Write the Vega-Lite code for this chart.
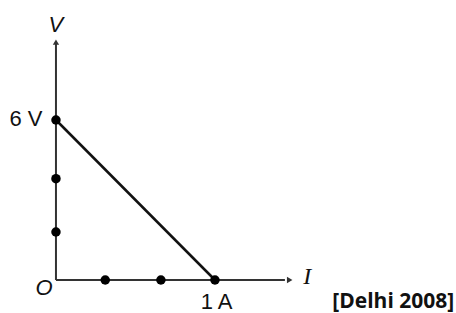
{
  "$schema": "https://vega.github.io/schema/vega-lite/v6.json",
  "width": 456,
  "height": 313,
  "padding": 0,
  "autosize": "none",
  "background": "white",
  "config": {"view": {"stroke": null}},
  "datasets": {
    "axes": [
      {"axis": "I", "i0": 0, "v0": 0, "i1": 1.44, "v1": 0},
      {"axis": "V", "i0": 0, "v0": 0, "i1": 0, "v1": 8.85}
    ],
    "arrows": [
      {"axis": "I", "i": 1.47, "v": 0, "shape": "triangle-right"},
      {"axis": "V", "i": 0, "v": 8.92, "shape": "triangle-up"}
    ],
    "graph": [
      {"i0": 0, "v0": 6, "i1": 1, "v1": 0}
    ],
    "dots": [
      {"i": 0, "v": 6},
      {"i": 0, "v": 3.8},
      {"i": 0, "v": 1.8},
      {"i": 0.31, "v": 0},
      {"i": 0.66, "v": 0},
      {"i": 1, "v": 0}
    ],
    "labels": [
      {"text": "V", "i": 0.0, "v": 9.55, "kind": "italic"},
      {"text": "O", "i": -0.075, "v": -0.3, "kind": "italic"},
      {"text": "6 V", "i": -0.085, "v": 6.02, "kind": "plainright"},
      {"text": "1 A", "i": 1.01, "v": -0.82, "kind": "plaincenter"},
      {"text": "I", "i": 1.58, "v": 0.12, "kind": "serif"},
      {"text": "[Delhi 2008]", "i": 2.505, "v": -0.82, "kind": "bold"}
    ]
  },
  "encoding": {
    "x": {"type": "quantitative", "scale": {"domain": [-0.352, 2.516], "nice": false, "zero": false}, "axis": null},
    "y": {"type": "quantitative", "scale": {"domain": [-1.2375, 10.5], "nice": false, "zero": false}, "axis": null}
  },
  "layer": [
    {
      "data": {"name": "axes"},
      "mark": {"type": "rule", "color": "#333333", "strokeWidth": 2},
      "encoding": {
        "x": {"field": "i0", "type": "quantitative"},
        "y": {"field": "v0", "type": "quantitative"},
        "x2": {"field": "i1"},
        "y2": {"field": "v1"}
      }
    },
    {
      "data": {"name": "arrows"},
      "mark": {"type": "point", "filled": true, "color": "#333333", "size": 40, "opacity": 1},
      "encoding": {
        "x": {"field": "i", "type": "quantitative"},
        "y": {"field": "v", "type": "quantitative"},
        "shape": {"field": "shape", "type": "nominal", "scale": null, "legend": null}
      }
    },
    {
      "data": {"name": "graph"},
      "mark": {"type": "rule", "color": "#111111", "strokeWidth": 2.5},
      "encoding": {
        "x": {"field": "i0", "type": "quantitative"},
        "y": {"field": "v0", "type": "quantitative"},
        "x2": {"field": "i1"},
        "y2": {"field": "v1"}
      }
    },
    {
      "data": {"name": "dots"},
      "mark": {"type": "circle", "color": "#000000", "size": 90, "opacity": 1},
      "encoding": {
        "x": {"field": "i", "type": "quantitative"},
        "y": {"field": "v", "type": "quantitative"}
      }
    },
    {
      "data": {"name": "labels"},
      "transform": [{"filter": "datum.kind === 'italic'"}],
      "mark": {"type": "text", "fontSize": 22, "color": "#111111", "baseline": "middle", "align": "center", "fontStyle": "italic", "font": "Liberation Sans"},
      "encoding": {
        "x": {"field": "i", "type": "quantitative"},
        "y": {"field": "v", "type": "quantitative"},
        "text": {"field": "text"}
      }
    },
    {
      "data": {"name": "labels"},
      "transform": [{"filter": "datum.kind === 'plainright'"}],
      "mark": {"type": "text", "fontSize": 22, "color": "#111111", "baseline": "middle", "align": "right", "font": "Liberation Sans"},
      "encoding": {
        "x": {"field": "i", "type": "quantitative"},
        "y": {"field": "v", "type": "quantitative"},
        "text": {"field": "text"}
      }
    },
    {
      "data": {"name": "labels"},
      "transform": [{"filter": "datum.kind === 'plaincenter'"}],
      "mark": {"type": "text", "fontSize": 22, "color": "#111111", "baseline": "middle", "align": "center", "font": "Liberation Sans"},
      "encoding": {
        "x": {"field": "i", "type": "quantitative"},
        "y": {"field": "v", "type": "quantitative"},
        "text": {"field": "text"}
      }
    },
    {
      "data": {"name": "labels"},
      "transform": [{"filter": "datum.kind === 'serif'"}],
      "mark": {"type": "text", "fontSize": 24, "color": "#111111", "baseline": "middle", "align": "center", "fontStyle": "italic", "font": "Liberation Serif"},
      "encoding": {
        "x": {"field": "i", "type": "quantitative"},
        "y": {"field": "v", "type": "quantitative"},
        "text": {"field": "text"}
      }
    },
    {
      "data": {"name": "labels"},
      "transform": [{"filter": "datum.kind === 'bold'"}],
      "mark": {"type": "text", "fontSize": 21, "color": "#111111", "baseline": "middle", "align": "right", "fontWeight": "bold", "font": "Open Sans"},
      "encoding": {
        "x": {"field": "i", "type": "quantitative"},
        "y": {"field": "v", "type": "quantitative"},
        "text": {"field": "text"}
      }
    }
  ]
}
